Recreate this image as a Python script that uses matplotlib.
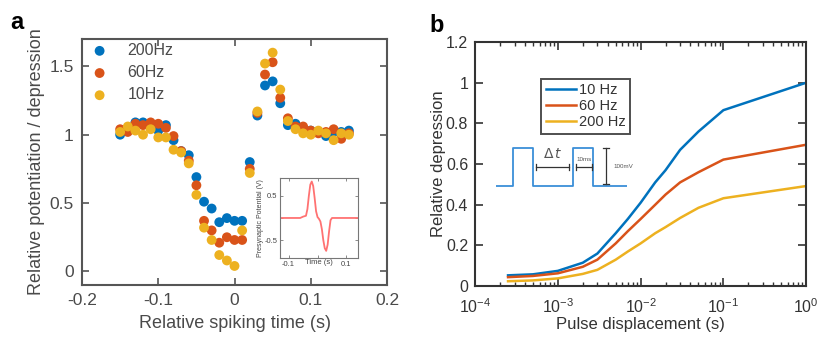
import numpy as np
import matplotlib
matplotlib.use('Agg')
import matplotlib.pyplot as plt

plt.rcParams['font.family'] = ['Liberation Sans', 'DejaVu Sans']

# ── panel a data: relative spiking time vs potentiation/depression ──
t_spike = [-0.15, -0.14, -0.13, -0.12, -0.11, -0.10, -0.09, -0.08, -0.07, -0.06,
           -0.05, -0.04, -0.03, -0.02, -0.01, 0.00, 0.01, 0.02, 0.03, 0.04,
           0.05, 0.06, 0.07, 0.08, 0.09, 0.10, 0.11, 0.12, 0.13, 0.14, 0.15]
a_200hz = [1.00, 1.04, 1.09, 1.09, 1.06, 1.03, 1.07, 0.96, 0.88, 0.85,
           0.69, 0.51, 0.46, 0.36, 0.39, 0.37, 0.37, 0.80, 1.14, 1.36,
           1.39, 1.23, 1.07, 1.08, 1.04, 1.03, 1.02, 0.99, 1.02, 1.02, 1.03]
a_60hz = [1.04, 1.02, 1.08, 1.07, 1.09, 1.08, 1.05, 0.99, 0.88, 0.81,
          0.63, 0.37, 0.30, 0.21, 0.25, 0.23, 0.23, 0.75, 1.16, 1.44,
          1.53, 1.27, 1.12, 1.06, 1.06, 1.03, 1.01, 1.02, 1.04, 0.97, 1.01]
a_10hz = [1.02, 1.06, 1.03, 1.00, 1.04, 0.98, 0.98, 0.89, 0.87, 0.79,
          0.56, 0.32, 0.23, 0.12, 0.08, 0.04, 0.30, 0.72, 1.17, 1.52,
          1.60, 1.33, 1.10, 1.04, 1.01, 1.00, 1.03, 1.01, 0.96, 1.01, 1.00]

# inset waveform (presynaptic potential)
wave_t = [-0.13, -0.06, -0.05, -0.04, -0.035, -0.03, -0.025, -0.02, -0.015, -0.01,
          -0.005, 0.0, 0.005, 0.01, 0.015, 0.02, 0.025, 0.03, 0.035, 0.04,
          0.045, 0.05, 0.14]
wave_v = [0.0, 0.0, 0.03, 0.05, 0.2, 0.5, 0.75, 0.82, 0.72, 0.45,
          0.15, 0.02, -0.02, -0.08, -0.25, -0.5, -0.68, -0.74, -0.6, -0.3,
          -0.05, 0.0, 0.0]

# ── panel b data: pulse displacement vs relative depression ──
dt_pulse = [2.5e-4, 5e-4, 1e-3, 2e-3, 3e-3, 5e-3, 7e-3, 1e-2, 1.5e-2, 2e-2,
            3e-2, 5e-2, 1e-1, 1.0]
b_10hz = [0.053, 0.058, 0.075, 0.115, 0.16, 0.26, 0.33, 0.41, 0.51, 0.57,
          0.67, 0.76, 0.865, 1.0]
b_60hz = [0.044, 0.050, 0.063, 0.095, 0.13, 0.21, 0.27, 0.33, 0.40, 0.45,
          0.51, 0.56, 0.622, 0.695]
b_200hz = [0.024, 0.028, 0.038, 0.060, 0.08, 0.13, 0.17, 0.21, 0.26, 0.29,
           0.335, 0.385, 0.432, 0.492]

BLUE = '#0072BD'
RED = '#D95319'
YEL = '#EDB120'
TXT_A = '#4a4a4a'
TXT_B = '#333333'

fig = plt.figure(figsize=(8.22, 3.39), dpi=100, facecolor='white')

# ── panel a ──────────────────────────────────────────────────────────
ax = fig.add_axes([0.0998, 0.159, 0.371, 0.726])
for vals, col, lab in [(a_200hz, BLUE, '200Hz'), (a_60hz, RED, '60Hz'), (a_10hz, YEL, '10Hz')]:
    ax.scatter(t_spike, vals, s=50, color=col, edgecolors='none', label=lab, zorder=3)
ax.set_xlim(-0.2, 0.2)
ax.set_ylim(-0.1, 1.7)
ax.set_xticks([-0.2, -0.1, 0, 0.1, 0.2])
ax.set_xticklabels(['-0.2', '-0.1', '0', '0.1', '0.2'])
ax.set_yticks([0, 0.5, 1, 1.5])
ax.set_yticklabels(['0', '0.5', '1', '1.5'])
ax.tick_params(direction='in', length=5, width=1.2, top=True, right=True,
               labelsize=12.5, colors='#555555', labelcolor=TXT_A, pad=6)
for sp in ax.spines.values():
    sp.set_color('#555555')
    sp.set_linewidth(1.5)
ax.set_xlabel('Relative spiking time (s)', fontsize=13, color=TXT_A, labelpad=5)
ax.set_ylabel('Relative potentiation / depression', fontsize=13, color=TXT_A, labelpad=3)
leg = ax.legend(loc='upper left', bbox_to_anchor=(0.0, 0.99), frameon=False,
                fontsize=11.5, handletextpad=0.75, labelspacing=0.45, borderaxespad=0,
                borderpad=0.1, scatterpoints=1)
for t in leg.get_texts():
    t.set_color(TXT_A)
fig.text(0.012, 0.915, 'a', fontsize=17, fontweight='bold', color='black')

# inset waveform
ins = fig.add_axes([0.3406, 0.239, 0.0949, 0.236])
ins.plot(wave_t, wave_v, color='#ff7272', lw=1.3)
ins.set_xlim(-0.13, 0.14)
ins.set_ylim(-0.9, 0.9)
ins.set_xticks([-0.1, 0, 0.1])
ins.set_xticklabels(['-0.1', '', '0.1'])
ins.set_yticks([-0.5, 0, 0.5])
ins.set_yticklabels(['-0.5', '', '0.5'])
ins.tick_params(direction='in', length=2, width=0.6, top=True, right=True,
                labelsize=5.5, colors='#777777', labelcolor='#444444', pad=2)
for sp in ins.spines.values():
    sp.set_color('#777777')
    sp.set_linewidth(0.8)
ins.set_xlabel('Time (s)', fontsize=5.5, color='#444444', labelpad=-6)
ins.set_ylabel('Presynaptic Potential (V)', fontsize=5, color='#444444', labelpad=0)

# ── panel b ──────────────────────────────────────────────────────────
bx = fig.add_axes([0.578, 0.156, 0.4027, 0.72])
bx.plot(dt_pulse, b_10hz, color=BLUE, lw=1.8, label='10 Hz')
bx.plot(dt_pulse, b_60hz, color=RED, lw=1.8, label='60 Hz')
bx.plot(dt_pulse, b_200hz, color=YEL, lw=1.8, label='200 Hz')
bx.set_xscale('log')
bx.set_xlim(1e-4, 1)
bx.set_ylim(0, 1.2)
bx.set_yticks([0, 0.2, 0.4, 0.6, 0.8, 1.0, 1.2])
bx.set_yticklabels(['0', '0.2', '0.4', '0.6', '0.8', '1', '1.2'])
bx.tick_params(which='major', direction='in', length=6, width=1.2, top=True, right=True,
               labelsize=11.5, colors='#333333', labelcolor=TXT_B, pad=5)
bx.tick_params(axis='x', which='major', pad=8)
bx.tick_params(which='minor', direction='in', length=3, width=1.0, top=True, right=True,
               colors='#333333')
for sp in bx.spines.values():
    sp.set_color('#333333')
    sp.set_linewidth(1.5)
bx.set_xlabel('Pulse displacement (s)', fontsize=12, color=TXT_B, labelpad=1)
bx.set_ylabel('Relative depression', fontsize=12, color=TXT_B, labelpad=0)
lg = bx.legend(loc='upper left', bbox_to_anchor=(0.2, 0.85), frameon=True, fancybox=False,
               fontsize=10.5, handlelength=2.1, handletextpad=0.2, labelspacing=0.15,
               borderpad=0.3, borderaxespad=0)
lg.get_frame().set_edgecolor('#222222')
lg.get_frame().set_linewidth(1.4)
for t in lg.get_texts():
    t.set_color(TXT_B)
fig.text(0.523, 0.905, 'b', fontsize=17, fontweight='bold', color='black')

# pulse schematic (drawn in its own pixel-like frame)
px = fig.add_axes([496 / 822, 1 - 190 / 339, 131 / 822, 46 / 339])
px.set_xlim(496, 627)
px.set_ylim(190, 144)
px.axis('off')
px.plot([496, 513, 513, 533, 533, 573, 573, 593, 593, 627],
        [186, 186, 148, 148, 186, 186, 148, 148, 186, 186], color='#3a8fd8', lw=1.3)
px.plot([536, 569], [167, 167], color='#333333', lw=0.9)
px.plot([536, 536], [164, 170], color='#333333', lw=0.9)
px.plot([569, 569], [164, 170], color='#333333', lw=0.9)
px.plot([576, 592], [167, 167], color='#333333', lw=0.9)
px.plot([576, 576], [164, 170], color='#333333', lw=0.9)
px.plot([592, 592], [164, 170], color='#333333', lw=0.9)
px.plot([606, 606], [148, 184], color='#333333', lw=0.9)
px.plot([603, 609], [148, 148], color='#333333', lw=0.9)
px.plot([603, 609], [184, 184], color='#333333', lw=0.9)
px.text(553, 161, r'$\Delta\,t$', fontsize=10, color='#555555', ha='center', va='bottom',
        family='serif')
px.text(584, 162, '10ms', fontsize=4.5, color='#555555', ha='center', va='bottom')
px.text(613, 166, '100mV', fontsize=4.5, color='#555555', ha='left', va='center')

fig.savefig('out.png', dpi=100, facecolor='white')
